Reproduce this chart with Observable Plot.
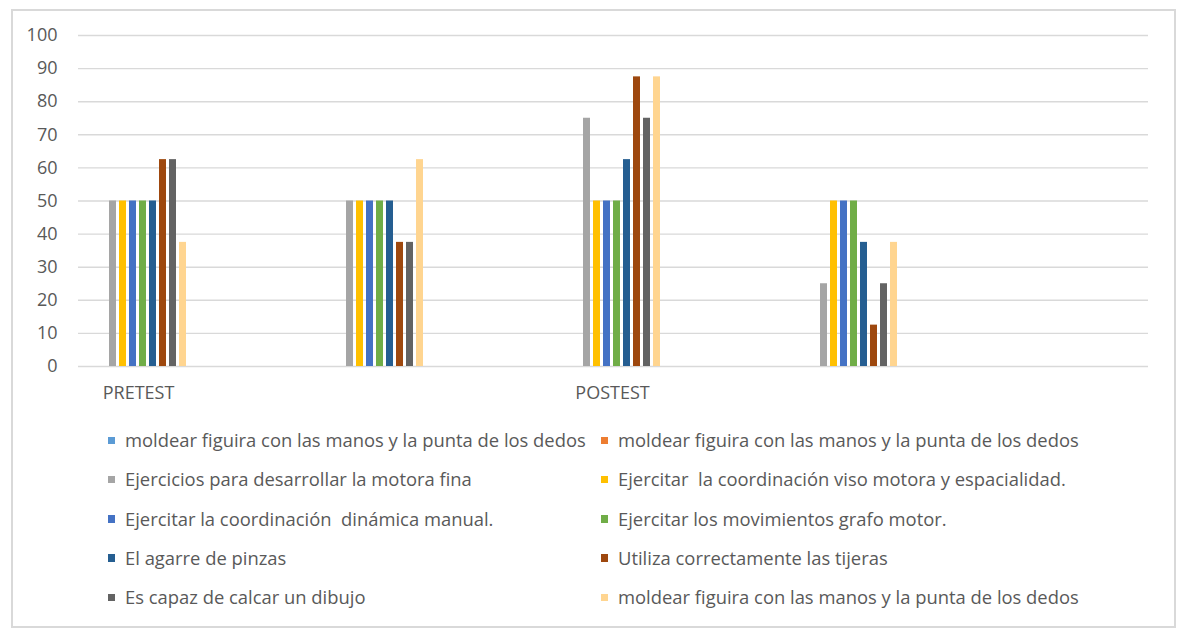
<!DOCTYPE html>
<html>
<head>
<meta charset="utf-8">
<script src="https://cdn.jsdelivr.net/npm/d3@7"></script>
<script src="https://cdn.jsdelivr.net/npm/@observablehq/plot@0.6"></script>
<style>
  html, body { margin: 0; padding: 0; background: #fff; }
  #wrap { position: relative; width: 1178px; height: 631px; overflow: hidden; font-family: "Open Sans", sans-serif; color: #595959; }
  #frame { position: absolute; left: 11px; top: 9px; width: 1165px; height: 619px; border: 2px solid #d9d9d9; box-sizing: border-box; }
  .layer { position: absolute; left: 0; top: 0; }
  #legend { position: absolute; left: 0; top: 0; width: 1178px; }
  .item { position: absolute; white-space: pre; font-size: 18.4px; line-height: 22px; }
  .sw { position: absolute; width: 7.5px; height: 7.5px; }
</style>
</head>
<body>
<div id="wrap">
  <div id="frame"></div>
  <div id="grid" class="layer"></div>
  <div id="chart" class="layer"></div>
  <div id="legend"></div>
</div>
<script>
// ---- data ----
const groups = ["G1", "G2", "G3", "G4"];
const groupLabels = ["PRETEST", "", "POSTEST", ""];
const seriesKeys = ["S1","S2","S3","S4","S5","S6","S7","S8","S9","S10"];
const seriesNames = [
  "moldear figuira con las manos y la punta de los dedos",
  "moldear figuira con las manos y la punta de los dedos",
  "Ejercicios para desarrollar la motora fina",
  "Ejercitar  la coordinación viso motora y espacialidad.",
  "Ejercitar la coordinación  dinámica manual.",
  "Ejercitar los movimientos grafo motor.",
  "El agarre de pinzas",
  "Utiliza correctamente las tijeras",
  "Es capaz de calcar un dibujo",
  "moldear figuira con las manos y la punta de los dedos"
];
const seriesColors = ["#5B9BD5","#ED7D31","#A5A5A5","#FFC000","#4472C4","#70AD47","#255E91","#9E480E","#636363","#FFD590"];
const S1  = [0, 0, 0, 0];
const S2  = [0, 0, 0, 0];
const S3  = [50, 50, 75, 25];
const S4  = [50, 50, 50, 50];
const S5  = [50, 50, 50, 50];
const S6  = [50, 50, 50, 50];
const S7  = [50, 50, 62.5, 37.5];
const S8  = [62.5, 37.5, 87.5, 12.5];
const S9  = [62.5, 37.5, 75, 25];
const S10 = [37.5, 62.5, 87.5, 37.5];
const yTicks = [0,10,20,30,40,50,60,70,80,90,100];

const seriesValues = [S1,S2,S3,S4,S5,S6,S7,S8,S9,S10];
const rows = [];
seriesKeys.forEach((s, si) => groups.forEach((g, gi) => rows.push({group: g, series: s, value: seriesValues[si][gi]})));

const common = {
  width: 1178,
  height: 412,
  marginLeft: 78,
  marginRight: 30,
  marginTop: 35,
  marginBottom: 46,
  style: { fontFamily: "Open Sans, sans-serif", fontSize: "18px", color: "#595959", background: "transparent" }
};

// gridlines layer (full width, shares the y scale)
const grid = Plot.plot({
  ...common,
  x: { axis: null },
  y: { domain: [0, 100], axis: null },
  marks: [ Plot.ruleY(yTicks, { stroke: "#d9d9d9", strokeWidth: 1.4 }) ]
});
document.getElementById("grid").appendChild(grid);

// bars layer (faceted by group)
const chart = Plot.plot({
  ...common,
  fx: { domain: groups, paddingInner: 0.58, paddingOuter: 0.54, align: 0.038, tickFormat: d => groupLabels[groups.indexOf(d)], tickSize: 0, tickPadding: 20, label: null, axis: "bottom" },
  x: { domain: seriesKeys, paddingInner: 0.29, paddingOuter: 0, axis: null },
  y: { domain: [0, 100], ticks: yTicks, tickSize: 0, tickPadding: 31, label: null },
  color: { domain: seriesKeys, range: seriesColors },
  marks: [
    Plot.barY(rows, { fx: "group", x: "series", y: "value", fill: "series" })
  ]
});
document.getElementById("chart").appendChild(chart);

// ---- legend ----
const legend = document.getElementById("legend");
const colX = [[107.5, 125], [600.5, 618]];
const rowBase = 436.5;
const rowStep = 39.3;
seriesKeys.forEach((s, i) => {
  const col = i % 2, row = Math.floor(i / 2);
  const top = rowBase + row * rowStep;
  const sw = document.createElement("div");
  sw.className = "sw";
  sw.style.left = colX[col][0] + "px";
  sw.style.top = top + "px";
  sw.style.background = seriesColors[i];
  legend.appendChild(sw);
  const t = document.createElement("div");
  t.className = "item";
  t.style.left = colX[col][1] + "px";
  t.style.top = (top - 7.5) + "px";
  t.textContent = seriesNames[i];
  legend.appendChild(t);
});
</script>
</body>
</html>
